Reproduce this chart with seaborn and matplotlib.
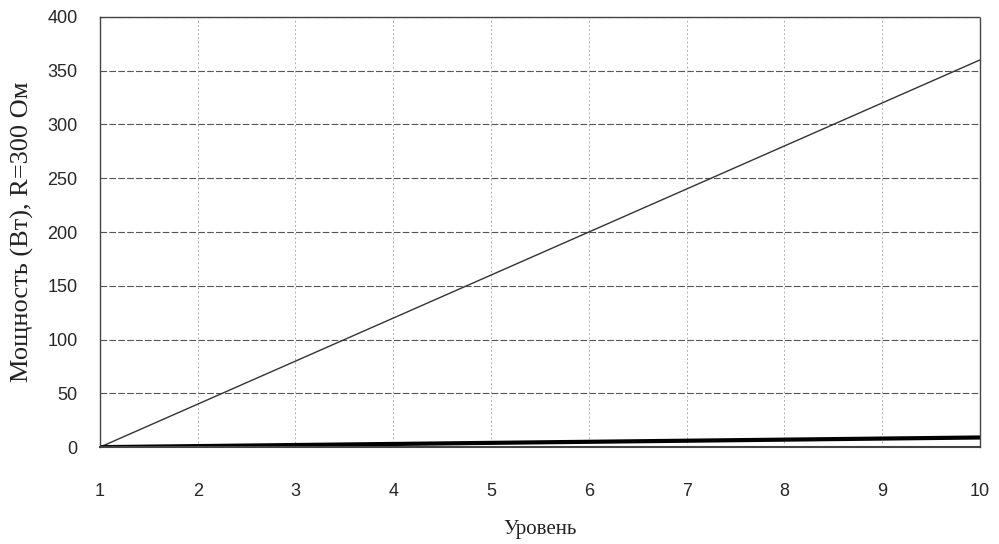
import matplotlib
matplotlib.use("Agg")
import matplotlib.pyplot as plt
import seaborn as sns
import pandas as pd

# Data
levels = [1, 2, 3, 4, 5, 6, 7, 8, 9, 10]
power_high = [0, 40, 80, 120, 160, 200, 240, 280, 320, 360]
power_low = [0, 1, 2, 3, 4, 5, 6, 7, 8, 9]
y_ticks = [0, 50, 100, 150, 200, 250, 300, 350, 400]

df = pd.DataFrame({"Level": levels, "High": power_high, "Low": power_low})

sns.set_style("white")
plt.rcParams["font.family"] = ["Liberation Sans", "DejaVu Sans"]

fig = plt.figure(figsize=(9.99, 5.44), dpi=100)
ax = fig.add_axes([0.100, 0.178, 0.881, 0.791])

# grid lines
for y in y_ticks[1:]:
    ax.axhline(y, color="#555555", linewidth=0.8, linestyle=(0, (6, 2)), zorder=0)
for x in levels[1:-1]:
    ax.axvline(x, color="#999999", linewidth=0.6, linestyle=(0, (2, 3)), zorder=0)

sns.lineplot(data=df, x="Level", y="High", ax=ax, color="#333333", linewidth=1.0)
sns.lineplot(data=df, x="Level", y="Low", ax=ax, color="black", linewidth=3.0)

ax.set_xlim(1, 10)
ax.set_ylim(0, 400)
ax.set_xticks(levels)
ax.set_yticks(y_ticks)
ax.tick_params(axis="x", labelsize=13, pad=26, length=0)
ax.tick_params(axis="y", labelsize=13, pad=16, length=0)

for spine in ax.spines.values():
    spine.set_color("#444444")
    spine.set_linewidth(1.0)
    spine.set_linestyle((0, (1, 1)))
ax.spines["left"].set_linestyle("-")
ax.spines["bottom"].set_linestyle("-")
ax.spines["bottom"].set_linewidth(1.5)

serif = ["Liberation Serif", "DejaVu Serif"]
ax.set_xlabel("Уровень", fontsize=15, family=serif, labelpad=14, color="#222222")
ax.set_ylabel("Мощность (Вт), R=300 Ом", fontsize=19, family=serif, labelpad=10, color="#222222")

fig.savefig("out.png", dpi=100)
